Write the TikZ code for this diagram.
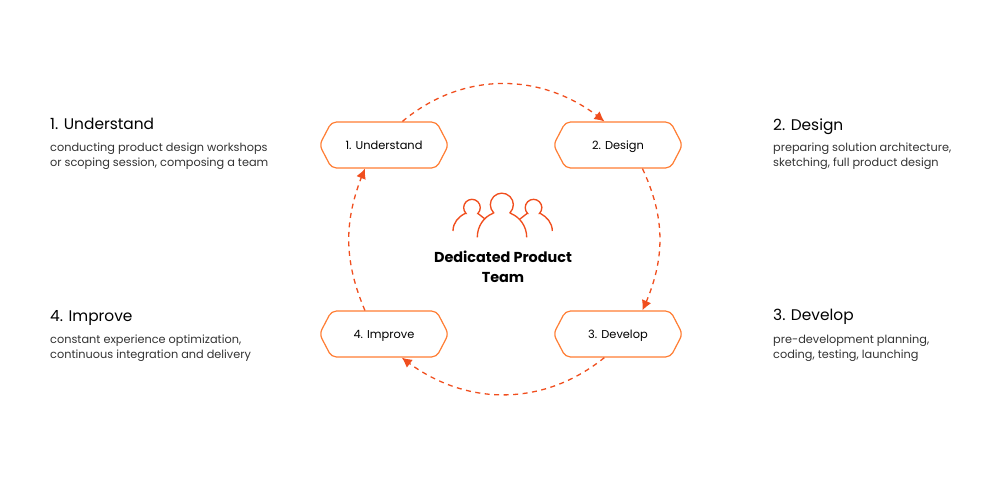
\documentclass[tikz,border=0pt]{standalone}
\usepackage{fontspec}
\setmainfont{Poppins}
\usetikzlibrary{shapes.symbols, arrows.meta, bending}

\definecolor{flamered}{HTML}{F04E1E}
\definecolor{edgeorange}{HTML}{FF7D33}

\begin{document}
\begin{tikzpicture}[
    x=1pt, y=-1pt,
    stage/.style={shape=signal, signal to=east and west, signal pointer angle=125,
      draw=edgeorange, line width=1.2pt, rounded corners=5pt, minimum width=129pt,
      minimum height=46pt, inner sep=0pt, text height=8pt, text depth=0pt,
      font=\fontsize{11.4}{13}\selectfont},
    flow/.style={draw=flamered, line width=1.3pt, dash pattern=on 5pt off 4.5pt,
      -{Latex[length=10pt, width=10pt, flex=1]}},
    heading/.style={anchor=base west, inner sep=0pt, font=\fontsize{15.4}{18}\selectfont},
    blurb/.style={anchor=north west, inner sep=0pt, align=left,
      font=\fontsize{11.3}{15}\selectfont, text=black!80},
    person/.style={draw=flamered, line width=1.35pt, fill=none}
  ]
  \useasboundingbox (0,0) rectangle (1000,483);

  \node [stage] (understand) at (384,145) {1. Understand};
  \node [stage] (design) at (618,145) {2. Design};
  \node [stage] (develop) at (618,334) {3. Develop};
  \node [stage] (improve) at (384,334) {4. Improve};

  \draw [flow] (understand.52) to[bend left=40] (design.120);
  \draw [flow] (design.-44) to[bend left=25] (develop.44);
  \draw [flow] (develop.-120) to[bend left=39] (improve.-53);
  \draw [flow] (improve.129) to[bend left=23] (understand.-129);

  % team icon
  \draw [person] (477.3,237.3) .. controls (477.3,226) and (484,217) .. (492.5,213.5)
    -- (493.7,212.8) arc[start angle=135, end angle=405, radius=11.5]
    -- (511,213.5) .. controls (519.5,217) and (526.7,226) .. (526.7,237.3);
  \draw [person] (453,231) .. controls (453,223) and (458,217) .. (465,213.5)
    -- (466.1,213.5) arc[start angle=135, end angle=405, radius=8.3]
    -- (478,213.5) -- (485,219);
  \draw [person] (552.3,231) .. controls (552.3,223) and (547,217) .. (540.5,213.5)
    -- (539.4,213.5) arc[start angle=45, end angle=-225, radius=8.3]
    -- (527,213.5) -- (520,219);

  \node [align=center, inner sep=0pt, font=\fontsize{14.4}{20}\selectfont\bfseries] (team) at (503,267)
    {Dedicated Product\\Team};

  \node [heading] (understandhead) at (50,129) {1. Understand};
  \node [blurb] (understandtext) at (50,143) {conducting product design workshops\\or scoping session, composing a team};
  \node [heading] (designhead) at (773,130) {2. Design};
  \node [blurb] (designtext) at (773,143) {preparing solution architecture,\\sketching, full product design};
  \node [heading] (improvehead) at (50,321) {4. Improve};
  \node [blurb] (improvetext) at (50,335) {constant experience optimization,\\continuous integration and delivery};
  \node [heading] (develophead) at (773,320) {3. Develop};
  \node [blurb] (developtext) at (773,335) {pre-development planning,\\coding, testing, launching};
\end{tikzpicture}
\end{document}
